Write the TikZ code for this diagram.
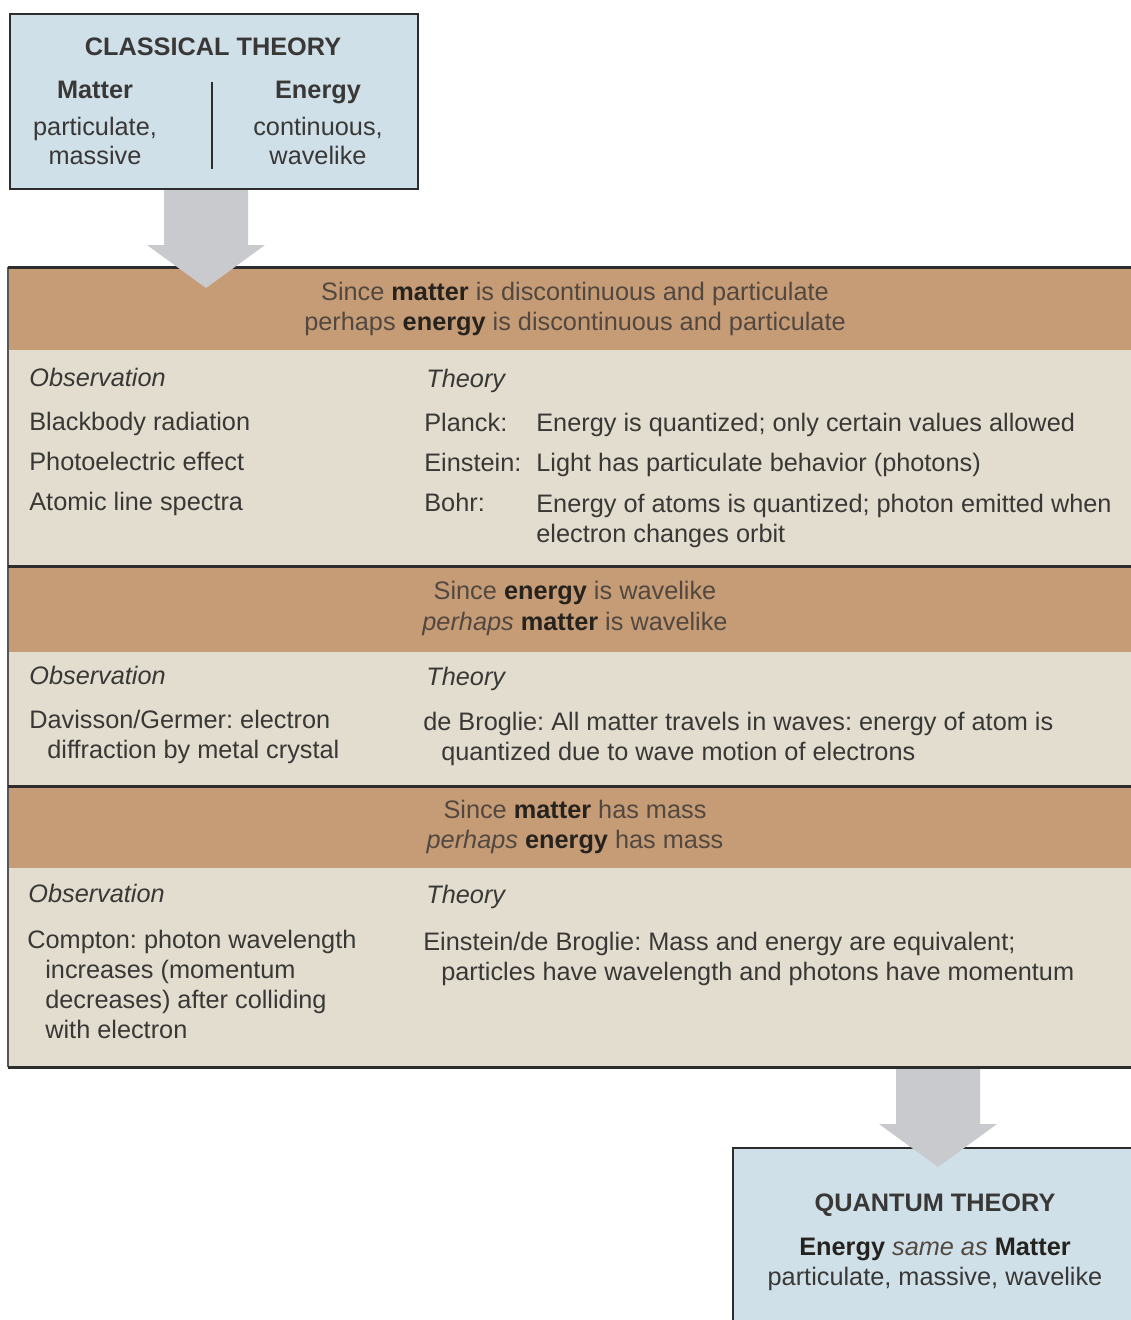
\documentclass[tikz,border=0pt]{standalone}
\usepackage{fontspec}
\setmainfont{Liberation Sans}
\usetikzlibrary{positioning}
\frenchspacing

\definecolor{skyfill}{RGB}{207,224,233}
\definecolor{rustband}{RGB}{197,156,118}
\definecolor{sandbody}{RGB}{226,221,206}
\definecolor{inkgray}{RGB}{58,56,54}
\definecolor{bandink}{RGB}{82,72,64}
\definecolor{keyink}{RGB}{38,34,30}
\definecolor{arrowgray}{RGB}{201,202,206}
\definecolor{ruleink}{RGB}{45,45,45}

\newcommand{\strongword}[1]{{\bfseries\color{keyink}#1}}
\newcommand{\ind}{\hspace*{0.36cm}}

\tikzset{
  txt/.style={anchor=base west, inner sep=0pt, text=inkgray,
    font=\fontsize{14.4}{17.07}\selectfont, align=left},
  mid/.style={anchor=base, inner sep=0pt, text=inkgray,
    font=\fontsize{14.4}{17.07}\selectfont, align=center},
  band/.style={mid, text=bandink},
  downarrow/.pic={
    \fill[arrowgray] (-42,0) -- (42,0) -- (42,55) -- (59,55) -- (0,98)
      -- (-59,55) -- (-42,55) -- cycle;
  }
}

\begin{document}
\begin{tikzpicture}[x=0.02cm, y=-0.02cm]
  \path[use as bounding box] (0,0) rectangle (1131,1320);
  \clip (0,0) rectangle (1131,1320);
  \fill[white] (0,0) rectangle (1131,1320);

  % classical box
  \filldraw[fill=skyfill, draw=ruleink, line width=1.3pt] (10,14) rectangle (418,189);
  \coordinate (classic-s) at (206,190);
  \node[mid] (ctitle) at (213,55) {\textbf{CLASSICAL THEORY}};
  \node[mid] (cmatter) at (95,98) {\textbf{Matter}};
  \node[mid] (cmatter1) at (95,135) {particulate,};
  \node[mid] (cmatter2) at (95,164) {massive};
  \node[mid] (cenergy) at (318,98) {\textbf{Energy}};
  \node[mid] (cenergy1) at (318,135) {continuous,};
  \node[mid] (cenergy2) at (318,164) {wavelike};
  \draw[ruleink, line width=1.2pt] (212,82) -- (212,169);

  % table bands
  \foreach \t/\b in {267/350, 566/652, 786/868}
    \fill[rustband] (8,\t) rectangle (1140,\b);
  \foreach \t/\b in {350/566, 652/786, 868/1067}
    \fill[sandbody] (8,\t) rectangle (1140,\b);
  \draw[ruleink!80, line width=1pt] (8,267) -- (8,1067);
  \foreach \y in {267,566,786,1067}
    \draw[ruleink, line width=1.7pt] (8,\y) -- (1140,\y);

  % band 1 (multi-line nodes sit on their last baseline)
  \node[band] (h1a) at (575,300) {Since \strongword{matter} is discontinuous and particulate};
  \node[band] (h1b) at (575,330) {perhaps \strongword{energy} is discontinuous and particulate};
  \node[txt] (obs1) at (29,386) {\textit{Observation}};
  \node[txt] (the1) at (426,387) {\textit{Theory}};
  \node[txt] (o1a) at (29,430) {Blackbody radiation};
  \node[txt] (o1b) at (29,470) {Photoelectric effect};
  \node[txt] (o1c) at (29,510) {Atomic line spectra};
  \node[txt] (t1a) at (424,431) {Planck:};
  \node[txt] (t1b) at (424,471) {Einstein:};
  \node[txt] (t1c) at (424,511) {Bohr:};
  \node[txt] (e1a) at (536,431) {Energy is quantized; only certain values allowed};
  \node[txt] (e1b) at (536,471) {Light has particulate behavior (photons)};
  \node[txt] (e1c) at (536,542) {Energy of atoms is quantized; photon emitted when\\electron changes orbit};

  % band 2
  \node[band] (h2a) at (575,599) {Since \strongword{energy} is wavelike};
  \node[band] (h2b) at (575,630) {\textit{perhaps} \strongword{matter} is wavelike};
  \node[txt] (obs2) at (29,684) {\textit{Observation}};
  \node[txt] (the2) at (426,685) {\textit{Theory}};
  \node[txt] (o2a) at (29,758) {Davisson/Germer: electron\\\ind diffraction by metal crystal};
  \node[txt] (t2a) at (423,760) {de Broglie: All matter travels in waves: energy of atom is\\\ind quantized due to wave motion of electrons};

  % band 3
  \node[band] (h3a) at (575,818) {Since \strongword{matter} has mass};
  \node[band] (h3b) at (575,848) {\textit{perhaps} \strongword{energy} has mass};
  \node[txt] (obs3) at (28,902) {\textit{Observation}};
  \node[txt] (the3) at (426,903) {\textit{Theory}};
  \node[txt] (o3a) at (27,1038) {Compton: photon wavelength\\\ind increases (momentum\\\ind decreases) after colliding\\\ind with electron};
  \node[txt] (t3a) at (423,980) {Einstein/de Broglie: Mass and energy are equivalent;\\\ind particles have wavelength and photons have momentum};
  \coordinate (table-s) at (938,1069);

  % quantum box
  \filldraw[fill=skyfill, draw=ruleink, line width=1.3pt] (733,1148) rectangle (1145,1330);
  \node[mid] (qtitle) at (935,1211) {\textbf{QUANTUM THEORY}};
  \node[mid] (qline1) at (935,1255) {\strongword{Energy} {\color{bandink}\textit{same as}} \strongword{Matter}};
  \node[mid] (qline2) at (935,1285) {particulate, massive, wavelike};

  % block arrows
  \pic at (classic-s) {downarrow};
  \pic at (table-s) {downarrow};
\end{tikzpicture}
\end{document}
